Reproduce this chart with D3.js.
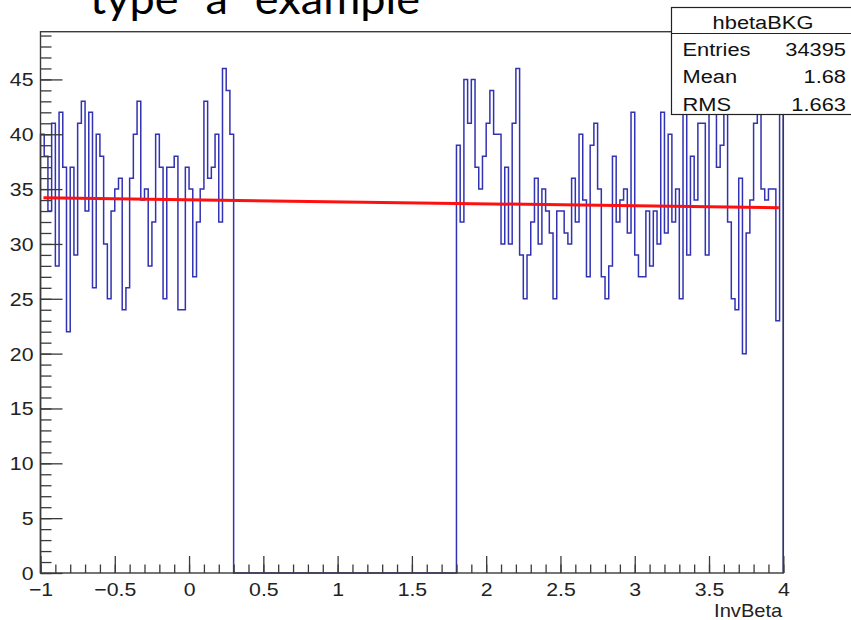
<!DOCTYPE html>
<html>
<head>
<meta charset="utf-8">
<script src="https://cdn.jsdelivr.net/npm/d3@7"></script>
<style>
  html, body { margin: 0; padding: 0; background: #fff; }
  svg { display: block; }
</style>
</head>
<body>
<svg id="chart" width="851" height="620"></svg>
<script>
// ---- data ----
const titleText = "type \u201ca\u201d example";
const histName = "hbetaBKG";
const xTitle = "InvBeta";
const xMin = -1, xMax = 4, nBins = 200;

// bin contents from -1.0 to 0.3 (bin width 0.025)
const leftCounts = [
  40, 38, 33, 41, 28, 42, 37, 22, 37, 29,
  41, 43, 33, 42, 26, 40, 38, 30, 25, 33,
  35, 36, 24, 26, 36, 40, 43, 34, 35, 28,
  32, 40, 37, 25, 37, 37, 38, 24, 24, 37,
  35, 27, 32, 35, 43, 36, 37, 40, 32, 46,
  44, 40
];
// empty bins from 0.3 to 1.8
const gapCounts = new Array(60).fill(0);
// bin contents from 1.8 to 4.0
const rightCounts = [
  39, 32, 45, 41, 45, 37, 35, 38, 41, 44,
  40, 40, 30, 37, 30, 41, 46, 29, 25, 29,
  32, 36, 30, 35, 33, 31, 25, 33, 33, 31,
  30, 36, 32, 40, 34, 27, 39, 41, 35, 27,
  25, 28, 38, 32, 34, 35, 31, 42, 29, 27,
  27, 33, 28, 33, 30, 42, 31, 40, 32, 35,
  25, 44, 29, 38, 34, 41, 41, 29, 47, 43,
  37, 39, 44, 32, 25, 24, 36, 20, 31, 34,
  41, 45, 35, 34, 35, 35, 23, 43
];
const counts = leftCounts.concat(gapCounts, rightCounts);

// straight-line fit drawn over the histogram
const fitX = [-0.98, 3.97];
const fitY = [34.2, 33.3];

// statistics box
const statLabels = ["Entries", "Mean", "RMS"];
const statValues = ["34395", "1.68", "1.663"];

const xTickValues = [-1, -0.5, 0, 0.5, 1, 1.5, 2, 2.5, 3, 3.5, 4];
const xTickLabels = ["\u22121", "\u22120.5", "0", "0.5", "1", "1.5", "2", "2.5", "3", "3.5", "4"];
const yTickValues = [0, 5, 10, 15, 20, 25, 30, 35, 40, 45];

// ---- layout ----
const frame = { left: 40.5, right: 783.3, top: 31.7, bottom: 573 };
const textStretch = 1.15;
const labelFont = "'Liberation Sans', Arial, Helvetica, sans-serif";
const axisColor = "#3a3a3a";

const svg = d3.select("#chart");

const yTop = d3.max(counts) * 1.05;
const x = d3.scaleLinear().domain([xMin, xMax]).range([frame.left, frame.right]);
const y = d3.scaleLinear().domain([0, yTop]).range([frame.bottom, frame.top]);

// ---- histogram outline ----
const binW = (xMax - xMin) / nBins;
const stepPts = [[xMin, 0]];
counts.forEach((c, i) => {
  stepPts.push([xMin + i * binW, c]);
  stepPts.push([xMin + (i + 1) * binW, c]);
});
stepPts.push([xMax, 0]);

const line = d3.line().x(d => x(d[0])).y(d => y(d[1]));

svg.append("path")
  .datum(stepPts)
  .attr("d", line)
  .attr("fill", "none")
  .attr("stroke", "#3232b4")
  .attr("stroke-width", 1.5)
  .attr("stroke-linejoin", "miter");

// ---- fit line ----
svg.append("path")
  .datum(fitX.map((v, i) => [v, fitY[i]]))
  .attr("d", line)
  .attr("fill", "none")
  .attr("stroke", "#ff1010")
  .attr("stroke-width", 3);

// ---- axes (ticks point into the frame) ----
const xMinor = d3.range(-10, 41).map(i => i / 10);
const yMinor = d3.range(0, Math.floor(yTop) + 1);

const gx = svg.append("g").attr("transform", `translate(0,${frame.bottom})`);
gx.append("g").call(d3.axisBottom(x).tickValues(xMinor).tickSize(-8.5).tickFormat(""));
gx.append("g").call(d3.axisBottom(x).tickValues(xTickValues).tickSize(-17)
  .tickFormat((d, i) => xTickLabels[i]));
gx.selectAll(".domain").remove();
gx.selectAll("line").attr("stroke", axisColor).attr("stroke-width", 1.3);
gx.selectAll("text")
  .attr("y", 23).attr("dy", 0)
  .attr("transform", `scale(${textStretch},1)`)
  .attr("fill", "#222")
  .style("font-family", labelFont)
  .style("font-size", "18.5px");

const gy = svg.append("g").attr("transform", `translate(${frame.left},0)`);
gy.append("g").call(d3.axisLeft(y).tickValues(yMinor).tickSize(-11).tickFormat(""));
gy.append("g").call(d3.axisLeft(y).tickValues(yTickValues).tickSize(-22).tickFormat(d3.format("d")));
gy.selectAll(".domain").remove();
gy.selectAll("line").attr("stroke", axisColor).attr("stroke-width", 1.3);
gy.selectAll("text")
  .attr("x", -7 / textStretch).attr("dy", "0.35em")
  .attr("transform", `scale(${textStretch},1)`)
  .attr("fill", "#222")
  .style("font-family", labelFont)
  .style("font-size", "18.5px");

// ---- frame ----
svg.append("rect")
  .attr("x", frame.left).attr("y", frame.top)
  .attr("width", frame.right - frame.left)
  .attr("height", frame.bottom - frame.top)
  .attr("fill", "none")
  .attr("stroke", axisColor)
  .attr("stroke-width", 1.4);

// ---- axis title ----
svg.append("g")
  .attr("transform", `translate(${frame.right - 1},617) scale(${textStretch},1)`)
  .append("text")
  .attr("text-anchor", "end")
  .attr("fill", "#222")
  .style("font-family", labelFont)
  .style("font-size", "17.5px")
  .text(xTitle);

// ---- statistics box ----
const box = { left: 671.5, top: 7.5, bottom: 114.5, sep: 33.5, right: 900 };
const gs = svg.append("g");
gs.append("rect")
  .attr("x", box.left).attr("y", box.top)
  .attr("width", box.right - box.left).attr("height", box.bottom - box.top)
  .attr("fill", "#fff").attr("stroke", "#222").attr("stroke-width", 1.2);
gs.append("line")
  .attr("x1", box.left).attr("x2", box.right)
  .attr("y1", box.sep).attr("y2", box.sep)
  .attr("stroke", "#222").attr("stroke-width", 1.2);

function stretchedText(g, px, py, anchor, str, size) {
  g.append("g")
    .attr("transform", `translate(${px},${py}) scale(${textStretch},1)`)
    .append("text")
    .attr("text-anchor", anchor)
    .attr("fill", "#111")
    .style("font-family", labelFont)
    .style("font-size", size)
    .text(str);
}
stretchedText(gs, 763, 28.5, "middle", histName, "19px");
statLabels.forEach((lab, i) => {
  const by = 56 + i * 27.4;
  stretchedText(gs, 682.5, by, "start", lab, "19px");
  stretchedText(gs, 846, by, "end", statValues[i], "19px");
});

// ---- slide title (runs off the top edge) ----
svg.append("text")
  .attr("x", 90).attr("y", 14)
  .attr("textLength", 330)
  .attr("lengthAdjust", "spacingAndGlyphs")
  .attr("fill", "#000")
  .style("font-family", "Lato, 'Open Sans', sans-serif")
  .style("font-size", "42px")
  .text(titleText);
</script>
</body>
</html>
